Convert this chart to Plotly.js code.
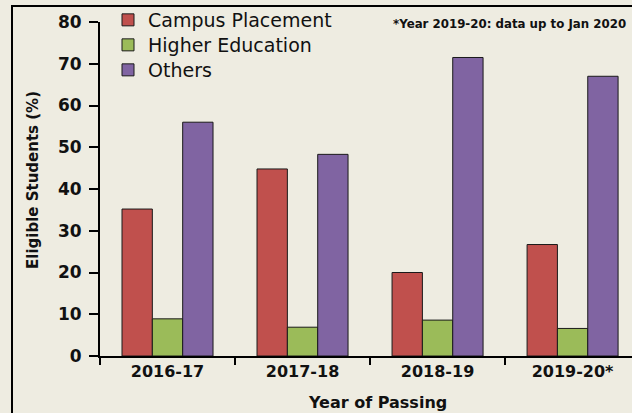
<!DOCTYPE html>
<html>
<head>
<meta charset="utf-8">
<script src="https://cdn.plot.ly/plotly-3.0.1.min.js"></script>
<style>
  html, body { margin: 0; padding: 0; background: #EEECE1; }
  #chart { width: 632px; height: 413px; }
</style>
</head>
<body>
<div id="chart"></div>
<script>
const years = ['2016-17', '2017-18', '2018-19', '2019-20*']
const campus = [35.2, 44.8, 20.0, 26.7]
const higher = [8.9, 6.9, 8.6, 6.6]
const others = [56.0, 48.3, 71.5, 67.0]

const font = '"DejaVu Sans", sans-serif'

const bar = (name, y, color, legend) => ({
    type: 'bar',
    name: name,
    x: years,
    y: y,
    legend: legend,
    marker: { color: color, line: { color: '#1a1a1a', width: 1 } },
    hoverinfo: 'skip',
})

const data = [
    bar('Campus Placement', campus, '#C0504D', 'legend'),
    bar('Higher Education', higher, '#9BBB59', 'legend2'),
    bar('Others', others, '#8064A2', 'legend3'),
]

// pixel -> paper helpers (plot area: x 100..632, y 22..356)
const px = x => (x - 100) / 532
const py = y => (356 - y) / 334

// one legend box per row so the row spacing can match
const legendRow = top => ({
    x: px(108), y: py(top), xanchor: 'left', yanchor: 'top',
    bgcolor: 'rgba(0,0,0,0)',
    font: { size: 19, color: '#111', family: font },
    itemwidth: 30,
})

const layout = {
    width: 632,
    height: 413,
    paper_bgcolor: '#EEECE1',
    plot_bgcolor: '#EEECE1',
    margin: { l: 100, r: 0, t: 22, b: 57 },
    barmode: 'group',
    bargap: 0.326,
    bargroupgap: 0,
    font: { family: font, color: '#111', size: 17 },
    showlegend: true,
    legend: legendRow(1),
    legend2: legendRow(26),
    legend3: legendRow(51),
    xaxis: {
        type: 'category',
        range: [-0.5, 3.44],
        showline: true, linecolor: '#000', linewidth: 2,
        ticks: 'outside', tickson: 'boundaries', ticklen: 7, tickwidth: 2, tickcolor: '#000',
        tickfont: { size: 16, family: font, weight: 'bold' },
        showgrid: false, zeroline: false, fixedrange: true,
    },
    yaxis: {
        range: [0, 80],
        dtick: 10,
        showline: true, linecolor: '#000', linewidth: 2,
        ticks: 'outside', ticklen: 9, tickwidth: 2, tickcolor: '#000',
        tickfont: { size: 17, family: font, weight: 'bold' },
        ticklabelstandoff: 4,
        showgrid: false, zeroline: false, fixedrange: true,
    },
    annotations: [{
        text: '*Year 2019-20: data up to Jan 2020',
        xref: 'paper', yref: 'paper',
        x: px(391), y: py(24),
        xanchor: 'left', yanchor: 'middle',
        showarrow: false,
        font: { size: 11.8, family: font, weight: 'bold', color: '#111' },
    }, {
        text: 'Eligible Students (%)',
        xref: 'paper', yref: 'paper',
        x: px(33), y: py(180),
        xanchor: 'center', yanchor: 'middle',
        textangle: -90,
        showarrow: false,
        font: { size: 15, family: font, weight: 'bold', color: '#111' },
    }, {
        text: 'Year of Passing',
        xref: 'paper', yref: 'paper',
        x: px(377), y: py(402),
        xanchor: 'center', yanchor: 'middle',
        showarrow: false,
        font: { size: 16, family: font, weight: 'bold', color: '#111' },
    }],
    shapes: [{
        type: 'rect', xref: 'paper', yref: 'paper',
        x0: px(12), x1: 1.2,
        y0: -0.4, y1: py(6),
        line: { color: '#000', width: 2 },
    }],
}

Plotly.newPlot('chart', data, layout, { displayModeBar: false, staticPlot: true })
</script>
</body>
</html>
